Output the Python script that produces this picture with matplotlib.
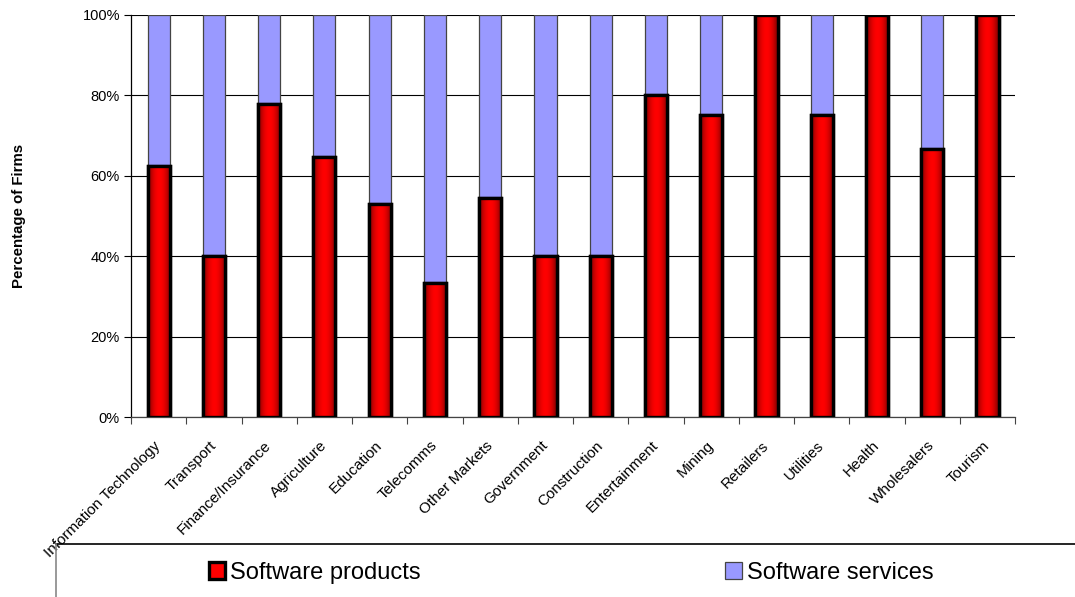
import matplotlib.pyplot as plt
import numpy as np
from matplotlib.lines import Line2D
from matplotlib.ticker import PercentFormatter
from matplotlib.transforms import ScaledTranslation

plt.rcParams['font.family'] = ['Liberation Sans', 'DejaVu Sans']

# Categories and shares (percent of firms)
sectors = ['Information Technology', 'Transport', 'Finance/Insurance', 'Agriculture',
           'Education', 'Telecomms', 'Other Markets', 'Government', 'Construction',
           'Entertainment', 'Mining', 'Retailers', 'Utilities', 'Health',
           'Wholesalers', 'Tourism']
products = [62.5, 40.0, 77.8, 64.7, 52.9, 33.3, 54.5, 40.0, 40.0,
            80.0, 75.0, 100.0, 75.0, 100.0, 66.7, 100.0]
services = [100 - p for p in products]

fig = plt.figure(figsize=(10.75, 5.97), dpi=100)
ax = fig.add_axes([0.1219, 0.3015, 0.8224, 0.6734])

x = np.arange(len(sectors))
w = 0.4

# gridlines behind everything
ax.set_axisbelow(True)
ax.yaxis.grid(True, color='#000000', linewidth=0.8)

bars_p = ax.bar(x, products, w, color='#FF0000', edgecolor='black',
                linewidth=2.4, zorder=3, label='Software products')
bars_s = ax.bar(x, services, w, bottom=products, color='#9999FF',
                edgecolor='#444444', linewidth=0.9, zorder=2,
                label='Software services')

# shaded fill for the red bars (dark edges, bright middle)
grad = np.abs(np.linspace(-1, 1, 64))
shade = np.zeros((1, 64, 3))
shade[0, :, 0] = 1.0 - 0.55 * grad ** 2
for b in bars_p:
    if b.get_height() <= 0:
        continue
    x0, y0, bw, bh = b.get_x(), b.get_y(), b.get_width(), b.get_height()
    im = ax.imshow(shade, extent=(x0, x0 + bw, y0, y0 + bh),
                   aspect='auto', zorder=3.5, interpolation='bilinear')
    im.set_clip_path(b)
    ax.add_patch(plt.Rectangle((x0, y0), bw, bh, fill=False,
                               edgecolor='black', linewidth=2.4, zorder=4))

ax.set_xlim(-0.5, len(sectors) - 0.5)
ax.set_ylim(0, 100)
ax.set_yticks([0, 20, 40, 60, 80, 100])
ax.yaxis.set_major_formatter(PercentFormatter(decimals=0))
ax.set_ylabel('Percentage of Firms', fontsize=10.8, fontweight='bold')
ax.yaxis.set_label_coords(-0.1188, 0.5)

ax.set_xticks(x)
ax.set_xticklabels(sectors, rotation=45, ha='right', va='center',
                   rotation_mode='anchor', fontsize=11)
shift = ScaledTranslation(-12 / 100, 0, fig.dpi_scale_trans)
for lab in ax.get_xticklabels():
    lab.set_transform(lab.get_transform() + shift)
ax.set_xticks(np.arange(len(sectors) + 1) - 0.5, minor=True)
ax.tick_params(axis='x', which='major', length=0, pad=19)
ax.tick_params(axis='x', which='minor', length=5, width=0.8, color='#444444')
ax.tick_params(axis='y', length=5, width=0.8, labelsize=10.5, pad=3)

for side in ['top', 'right']:
    ax.spines[side].set_visible(False)
ax.spines['left'].set_linewidth(0.9)
ax.spines['bottom'].set_linewidth(0.9)
ax.spines['bottom'].set_color('#444444')

# legend with its partial frame
fig.add_artist(Line2D([56 / 1075, 1.0], [1 - 544 / 597, 1 - 544 / 597],
                      color='black', linewidth=1.2))
fig.add_artist(Line2D([56 / 1075, 56 / 1075], [0, 1 - 544 / 597],
                      color='#888888', linewidth=1.2))
fig.legend(handles=[bars_p, bars_s], loc='center', ncol=2,
           bbox_to_anchor=(571 / 1075, 1 - 573 / 597), frameon=False,
           fontsize=17, handlelength=0.7, handleheight=0.75,
           handletextpad=0.2, columnspacing=12.9, borderpad=0)

fig.savefig('out.png', dpi=100)
